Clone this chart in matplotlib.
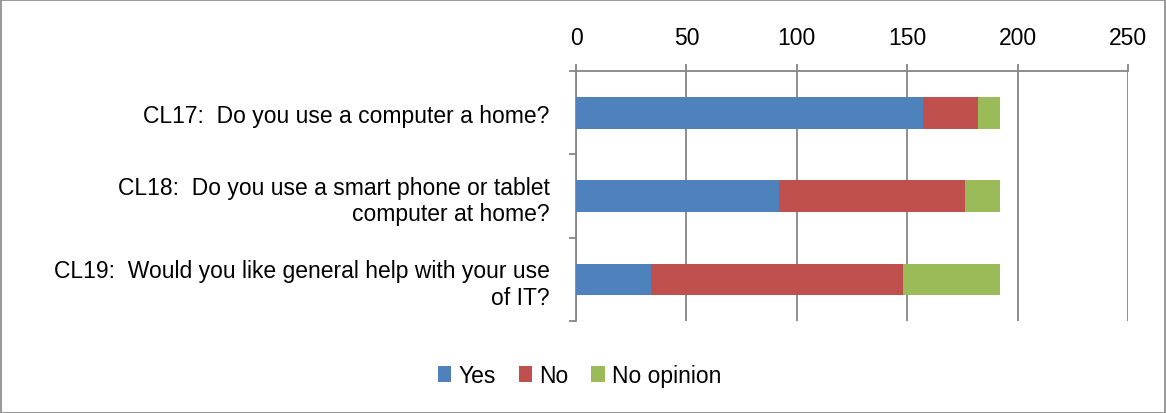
import matplotlib.pyplot as plt
from matplotlib.patches import Rectangle

questions = [
    "CL17:  Do you use a computer a home?",
    "CL18:  Do you use a smart phone or tablet\ncomputer at home?",
    "CL19:  Would you like general help with your use\nof IT?",
]
yes = [157, 92, 34]
no = [25, 84, 114]
no_opinion = [10, 16, 44]
series_names = ["Yes", "No", "No opinion"]
colors = ["#4F81BD", "#C0504D", "#9BBB59"]
xticks = [0, 50, 100, 150, 200, 250]

plt.rcParams['font.family'] = ['Liberation Sans Narrow', 'Liberation Sans', 'DejaVu Sans']

fig = plt.figure(figsize=(11.66, 4.14), dpi=100)
ax = fig.add_axes([0.494, 0.222, 0.4734, 0.604])

ypos = list(range(len(questions)))
left = [0] * len(questions)
for vals, name, c in zip([yes, no, no_opinion], series_names, colors):
    ax.barh(ypos, vals, left=left, height=0.38, color=c, label=name, zorder=3)
    left = [a + b for a, b in zip(left, vals)]

ax.set_xlim(0, 250)
ax.set_ylim(len(questions) - 0.5, -0.5)
ax.set_xticks(xticks)
ax.xaxis.tick_top()
ax.tick_params(axis='x', which='major', length=5, color='#868686', width=1.3,
               labelsize=16.5, pad=11)
ax.grid(axis='x', color='#868686', linewidth=1.3, zorder=0)

ax.set_yticks(ypos)
ax.set_yticklabels(questions, fontsize=16.5, ha='right', multialignment='right')
ax.set_yticks([-0.5, 0.5, 1.5, 2.5], minor=True)
ax.tick_params(axis='y', which='major', length=0, pad=19)
ax.tick_params(axis='y', which='minor', length=5, color='#868686', width=1.3)

for side in ['right', 'bottom']:
    ax.spines[side].set_visible(False)
for side in ['left', 'top']:
    ax.spines[side].set_color('#868686')
    ax.spines[side].set_linewidth(1.3)

fig.legend(loc='center', bbox_to_anchor=(0.497, 0.09), ncol=3, frameon=False,
           fontsize=16.5, handlelength=0.6, handleheight=0.7, handletextpad=0.3,
           columnspacing=1.0)

fig.patches.append(Rectangle((0.001, 0.001), 0.998, 0.997, transform=fig.transFigure,
                             fill=False, edgecolor='#868686', linewidth=1.2))

fig.savefig("out.png", dpi=100)
